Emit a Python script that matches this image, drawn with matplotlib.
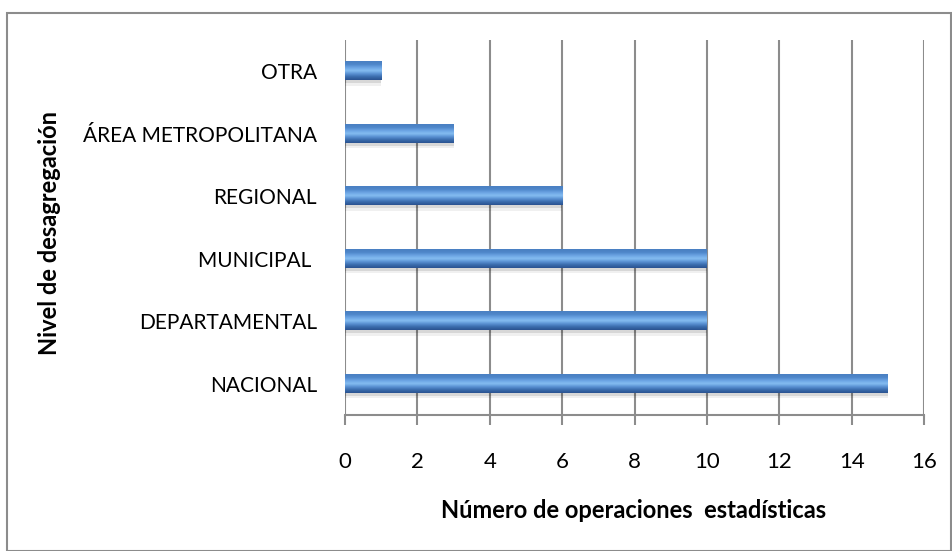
import numpy as np
import matplotlib.pyplot as plt
from matplotlib.colors import LinearSegmentedColormap
from matplotlib.patches import Rectangle

categories = ['NACIONAL', 'DEPARTAMENTAL', 'MUNICIPAL ', 'REGIONAL', 'ÁREA METROPOLITANA', 'OTRA']
values = [15, 10, 10, 6, 3, 1]
xticks = [0, 2, 4, 6, 8, 10, 12, 14, 16]

plt.rcParams['font.family'] = ['Lato', 'DejaVu Sans']

fig = plt.figure(figsize=(9.53, 5.51), dpi=100)
fig.patches.append(Rectangle((7 / 953, 0), 1 - 9 / 953, 1 - 13 / 551, transform=fig.transFigure,
                             fill=False, edgecolor='#8c8c8c', linewidth=1.5))
ax = fig.add_axes([345 / 953, 1 - 415 / 551, 579 / 953, 375 / 551])

y = np.arange(len(categories))
h = 0.29
# soft shadow under each bar
for k, a in [(0.05, 0.10), (0.09, 0.06)]:
    ax.barh(y - k, values, height=h, color='#000000', alpha=a, zorder=2, linewidth=0)
bars = ax.barh(y, values, height=h, color='#4a7ebb', zorder=3)

cmap = LinearSegmentedColormap.from_list(
    'bar', ['#2a5290', '#3a6cad', '#5a91d3', '#86bef2', '#6aa3e3', '#4e86c9', '#4a80c2'])
grad = np.linspace(0, 1, 64).reshape(-1, 1)
for b in bars:
    x0, y0, w, hh = b.get_x(), b.get_y(), b.get_width(), b.get_height()
    ax.imshow(grad, cmap=cmap, extent=(x0, x0 + w, y0, y0 + hh), origin='lower', aspect='auto',
              interpolation='bicubic', zorder=4)

ax.set_xlim(0, 16)
ax.set_ylim(-0.5, len(categories) - 0.5)
ax.set_xticks(xticks)
ax.set_xticklabels([str(t) for t in xticks], fontsize=16)
ax.set_yticks(y)
ax.set_yticklabels(categories, fontsize=15)
ax.tick_params(axis='y', length=0, pad=20)
ax.tick_params(axis='x', length=7, width=1.5, color='#8c8c8c', pad=20)
ax.grid(axis='x', color='#8c8c8c', linewidth=1.5, zorder=1)
ax.set_axisbelow(True)
for s in ['top', 'right', 'left']:
    ax.spines[s].set_visible(False)
ax.spines['bottom'].set_color('#8c8c8c')
ax.spines['bottom'].set_linewidth(1.5)

fig.text(634 / 953, 1 - 511 / 551, 'Número de operaciones  estadísticas', fontsize=17,
         fontweight='bold', ha='center', va='center')
fig.text(50 / 953, 1 - 233 / 551, 'Nivel de desagregación', rotation=90, fontsize=17,
         fontweight='bold', ha='center', va='center')

fig.savefig('out.png', dpi=100)
